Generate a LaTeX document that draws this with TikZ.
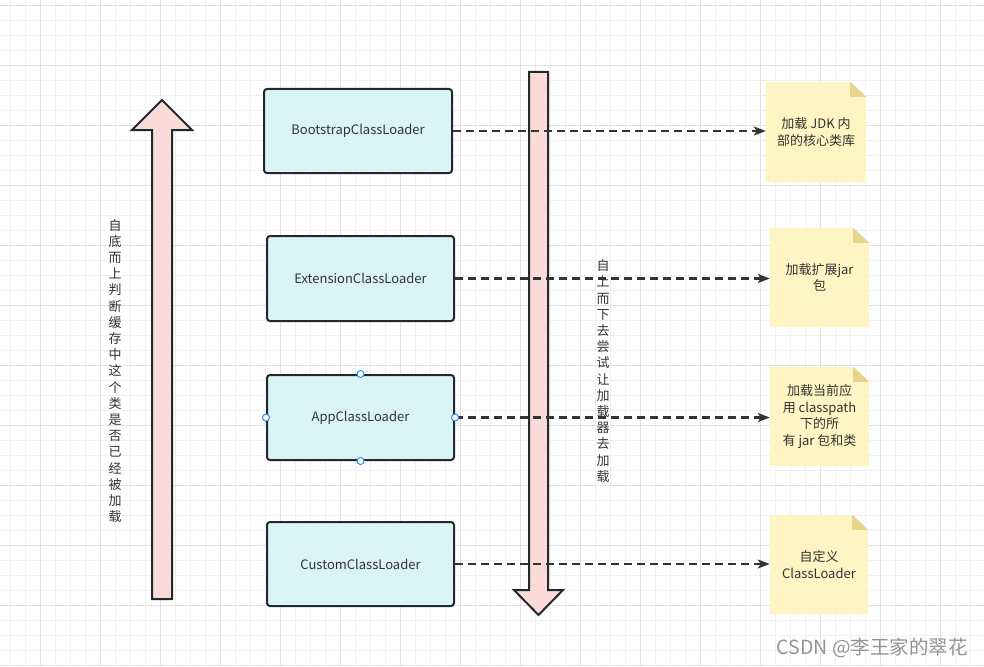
\documentclass[tikz,border=0pt]{standalone}
\usepackage{fontspec}
\setmainfont{Noto Sans CJK SC}
\usetikzlibrary{arrows.meta}
\definecolor{gridminor}{HTML}{F0F0F0}
\definecolor{gridmajor}{HTML}{E2E2E2}
\definecolor{boxfill}{HTML}{DAF4F3}
\definecolor{edge}{HTML}{23282E}
\definecolor{arrowfill}{HTML}{FADBD8}
\definecolor{notefill}{HTML}{FFF4C3}
\definecolor{notefold}{HTML}{E6D48D}
\definecolor{txt}{HTML}{333333}
\definecolor{handleblue}{HTML}{2E8CF0}
\tikzset{
  loaderbox/.style={draw=edge, line width=2pt, fill=boxfill, rounded corners=3pt,
    text=txt, font=\fontsize{13}{15}\selectfont, inner sep=0pt},
  notebox/.style={inner sep=0pt, text=txt, align=center, font=\fontsize{13}{16.8}\selectfont},
  dasharrow/.style={draw=txt, line width=2.1pt, dash pattern=on 8pt off 5pt,
    -{Stealth[length=12pt,width=9pt,inset=3pt]}},
  bigarrow/.style={draw=edge, line width=2pt, fill=arrowfill, line join=miter},
  handle/.style={circle, draw=handleblue, fill=white, line width=1pt, minimum size=7pt, inner sep=0pt},
  vtext/.style={align=center, text=txt, font=\fontsize{13}{16.2}\selectfont, inner sep=0pt}
}
\begin{document}
\begin{tikzpicture}[x=1pt,y=-1pt]
\useasboundingbox (0,0) rectangle (984,666);
\fill[white] (0,0) rectangle (984,666);
% grid
\foreach \x in {10,25,...,984} \draw[gridminor, line width=0.8pt] (\x,0) -- (\x,666);
\foreach \y in {5,20,...,666} \draw[gridminor, line width=0.8pt] (0,\y) -- (984,\y);
\foreach \x in {40,100,...,984} \draw[gridmajor, line width=0.9pt] (\x,0) -- (\x,666);
\foreach \y in {5,65,...,666} \draw[gridmajor, line width=0.9pt] (0,\y) -- (984,\y);

% big arrows
\draw[bigarrow] (162,100) -- (192,130) -- (172,130) -- (172,599) -- (152,599) -- (152,130) -- (132,130) -- cycle;
\draw[bigarrow] (529,72) -- (548,72) -- (548,590) -- (563,590) -- (538.5,615) -- (514,590) -- (529,590) -- cycle;

% loader boxes
\node[loaderbox, minimum width=188pt, minimum height=84pt] (boot) at (358,131) {BootstrapClassLoader};
\node[loaderbox, minimum width=187pt, minimum height=85pt] (ext) at (360.5,278.5) {ExtensionClassLoader};
\node[loaderbox, minimum width=187pt, minimum height=85pt] (app) at (360.5,417.5) {AppClassLoader};
\node[loaderbox, minimum width=187pt, minimum height=84pt] (cust) at (360.5,564) {CustomClassLoader};

% notes
\node[notebox, minimum width=100pt, minimum height=100pt] (n1) at (816,132) {};
\node[notebox, minimum width=99pt, minimum height=99pt] (n2) at (819.5,277.5) {};
\node[notebox, minimum width=99pt, minimum height=99pt] (n3) at (819.5,416.5) {};
\node[notebox, minimum width=98pt, minimum height=99pt] (n4) at (819,564.5) {};
\foreach \n in {n1,n2,n3,n4} {
  \fill[notefill] (\n.north west) -- ([xshift=-16pt]\n.north east) -- ([yshift=-15pt]\n.north east) -- (\n.south east) -- (\n.south west) -- cycle;
  \fill[notefold] ([xshift=-16pt]\n.north east) -- ([xshift=-16pt,yshift=-15pt]\n.north east) -- ([yshift=-15pt]\n.north east) -- cycle;
}
\node[notebox] (t1) at (n1) {加载 JDK 内\\部的核心类库};
\node[notebox] (t2) at (n2) {加载扩展jar\\包};
\node[notebox] (t3) at (n3) {加载当前应\\用 classpath\\下的所\\有 jar 包和类};
\node[notebox] (t4) at (n4) {自定义\\ClassLoader};

% connectors
\draw[dasharrow] (boot.east) -- (boot.east -| n1.west);
\draw[dasharrow] (ext.east) -- (ext.east -| n2.west);
\draw[dasharrow] (app.east) -- (app.east -| n3.west);
\draw[dasharrow] (cust.east) -- (cust.east -| n4.west);

% selection handles
\node[handle] (hN) at (app.north) {};
\node[handle] (hS) at (app.south) {};
\node[handle] (hE) at (app.east) {};
\node[handle] (hW) at (app.west) {};

% vertical texts
\node[vtext] (up) at (115,371) {自\\底\\而\\上\\判\\断\\缓\\存\\中\\这\\个\\类\\是\\否\\已\\经\\被\\加\\载};
\node[vtext] (down) at (603,371) {自\\上\\而\\下\\去\\尝\\试\\让\\加\\载\\器\\去\\加\\载};

% watermark
\node[text=black!42, font=\fontsize{19.5}{22}\selectfont, anchor=east, inner sep=0pt] (wm) at (968,648) {CSDN @李王家的翠花};
\end{tikzpicture}
\end{document}
